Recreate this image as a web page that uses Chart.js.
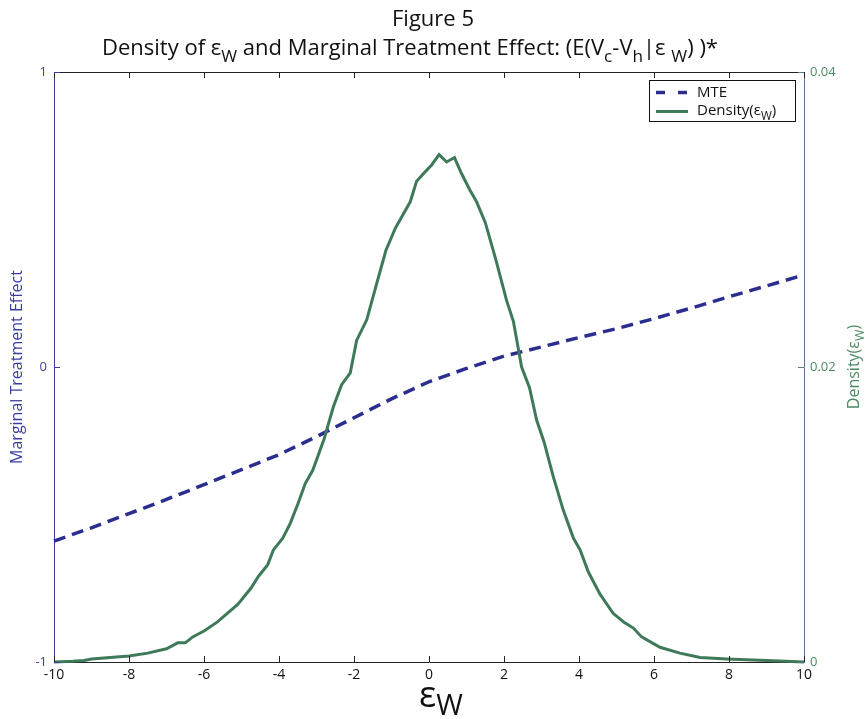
<!DOCTYPE html>
<html>
<head>
<meta charset="utf-8">
<script src="https://cdn.jsdelivr.net/npm/chart.js@4.4.0/dist/chart.umd.min.js"></script>
<style>
  html, body { margin: 0; padding: 0; background: #fff; }
  #wrap { width: 867px; height: 719px; }
</style>
</head>
<body>
<div id="wrap"><canvas id="chart" width="867" height="719"></canvas></div>
<script>
// tick values
const xTicks = [-10, -8, -6, -4, -2, 0, 2, 4, 6, 8, 10];
const mteTicks = [-1, 0, 1];
const densityTicks = [0, 0.02, 0.04];

// marginal treatment effect (left axis)
const mteX = [-10, -9, -8, -7, -6, -5, -4, -3, -2, -1, 0, 1, 2, 3, 4, 5, 6, 7, 8, 9, 10];
const mteValues = [-0.590, -0.545, -0.497, -0.449, -0.399, -0.348, -0.297, -0.236, -0.172, -0.108,
                   -0.050, -0.005, 0.037, 0.068, 0.100, 0.130, 0.164, 0.200, 0.238, 0.275, 0.312];

// density of eps_W (right axis)
const densityX = [-10, -9.5, -9.2, -9.0, -8.5, -8.0, -7.5, -7.0, -6.7, -6.5, -6.3, -6.0, -5.65, -5.1,
                  -4.75, -4.55, -4.3, -4.15, -3.9, -3.7, -3.5, -3.3, -3.1, -2.8, -2.55, -2.33, -2.1,
                  -1.93, -1.66, -1.39, -1.15, -0.9, -0.5, -0.33, -0.15, 0.07, 0.27, 0.47, 0.68, 0.87,
                  1.09, 1.27, 1.5, 1.78, 2.07, 2.25, 2.47, 2.68, 2.87, 3.07, 3.31, 3.58, 3.85, 4.03,
                  4.25, 4.56, 4.91, 5.2, 5.45, 5.67, 6.16, 6.69, 7.23, 7.94, 9.0, 10.0];
const densityValues = [0, 0.00005, 0.0001, 0.0002, 0.0003, 0.0004, 0.0006, 0.0009, 0.0013, 0.0013, 0.0017,
                       0.0021, 0.0027, 0.0039, 0.0050, 0.0058, 0.0066, 0.0076, 0.0084, 0.0094, 0.0107,
                       0.0121, 0.0130, 0.0151, 0.0173, 0.0188, 0.0196, 0.0218, 0.0232, 0.0257, 0.0279,
                       0.0294, 0.0312, 0.0326, 0.0331, 0.0337, 0.0344, 0.0339, 0.0342, 0.0331, 0.0320,
                       0.0312, 0.0298, 0.0273, 0.0245, 0.0231, 0.0200, 0.0186, 0.0164, 0.0149, 0.0126,
                       0.0103, 0.0084, 0.0076, 0.0061, 0.0046, 0.0033, 0.0027, 0.0023, 0.0017, 0.0010,
                       0.0006, 0.0003, 0.0002, 0.0001, 0];

const FONT = '"Open Sans", "DejaVu Sans", sans-serif';
const MTE_COLOR = '#2c2e8f';
const LEFT_AXIS = '#3b3ea0';
const DENS_COLOR = '#3e7a59';
const RIGHT_TEXT = '#4a8a62';
const RIGHT_AXIS = '#5d7590';

// draws text with subscript parts, baseline at y
function drawParts(ctx, parts, x, y, size, align, subScale, subDrop) {
    subScale = subScale || 0.78;
    subDrop = subDrop || 0.3;
    let total = 0;
    parts.forEach(p => {
        ctx.font = `${p.sub ? size * subScale : size}px ${FONT}`;
        p.w = ctx.measureText(p.t).width;
        total += p.w;
    });
    let cx = align === 'center' ? x - total / 2 : (align === 'right' ? x - total : x);
    ctx.textAlign = 'left';
    ctx.textBaseline = 'alphabetic';
    parts.forEach(p => {
        ctx.font = `${p.sub ? size * subScale : size}px ${FONT}`;
        ctx.fillText(p.t, cx, p.sub ? y + size * subDrop : y);
        cx += p.w;
    });
}

function line(ctx, x1, y1, x2, y2) {
    ctx.beginPath();
    ctx.moveTo(x1, y1);
    ctx.lineTo(x2, y2);
    ctx.stroke();
}

const framePlugin = {
    id: 'frame',
    afterDraw(chart) {
        const { ctx, chartArea: a, scales } = chart;
        ctx.save();
        ctx.lineWidth = 1;
        ctx.setLineDash([]);

        // top border and inward tick marks
        ctx.strokeStyle = '#222';
        line(ctx, a.left, a.top + 0.5, a.right, a.top + 0.5);
        xTicks.forEach(v => {
            const px = Math.round(scales.x.getPixelForValue(v)) + 0.5;
            line(ctx, px, a.bottom, px, a.bottom - 6);
            line(ctx, px, a.top, px, a.top + 6);
        });
        ctx.strokeStyle = LEFT_AXIS;
        mteTicks.forEach(v => {
            const py = Math.round(scales.y.getPixelForValue(v)) + 0.5;
            line(ctx, a.left, py, a.left + 6, py);
        });
        ctx.strokeStyle = RIGHT_AXIS;
        densityTicks.forEach(v => {
            const py = Math.round(scales.y1.getPixelForValue(v)) + 0.5;
            line(ctx, a.right, py, a.right - 6, py);
        });

        // titles
        ctx.fillStyle = '#111';
        drawParts(ctx, [{ t: 'Figure 5' }], 433, 26, 22, 'center');
        drawParts(ctx, [
            { t: 'Density of ε' }, { t: 'W', sub: true },
            { t: ' and Marginal Treatment Effect: (E(V' }, { t: 'c', sub: true },
            { t: '-V' }, { t: 'h', sub: true }, { t: '|ε ' }, { t: 'W', sub: true }, { t: ') )*' }
        ], 410, 55, 22, 'center');

        // x axis title
        drawParts(ctx, [{ t: 'ε' }, { t: 'W', sub: true }], 441, 707, 36, 'center', 0.8, 0.22);

        // left axis title
        ctx.save();
        ctx.translate(22, 367);
        ctx.rotate(-Math.PI / 2);
        ctx.fillStyle = LEFT_AXIS;
        drawParts(ctx, [{ t: 'Marginal Treatment Effect' }], 0, 0, 16, 'center');
        ctx.restore();

        // right axis title
        ctx.save();
        ctx.translate(859, 367);
        ctx.rotate(-Math.PI / 2);
        ctx.fillStyle = RIGHT_TEXT;
        drawParts(ctx, [{ t: 'Density(ε' }, { t: 'W', sub: true }, { t: ')' }], 0, 0, 16, 'center');
        ctx.restore();

        // legend
        ctx.fillStyle = '#fff';
        ctx.fillRect(649.5, 80.5, 146, 41);
        ctx.strokeStyle = '#111';
        ctx.strokeRect(649.5, 80.5, 146, 41);
        ctx.lineWidth = 3.5;
        ctx.strokeStyle = MTE_COLOR;
        ctx.setLineDash([9, 13]);
        line(ctx, 656, 92.5, 690, 92.5);
        ctx.setLineDash([]);
        ctx.lineWidth = 3;
        ctx.strokeStyle = DENS_COLOR;
        line(ctx, 656, 111.5, 688, 111.5);
        ctx.fillStyle = '#111';
        drawParts(ctx, [{ t: 'MTE' }], 697, 97, 15, 'left');
        drawParts(ctx, [{ t: 'Density(ε' }, { t: 'W', sub: true }, { t: ')' }], 697, 115, 15, 'left');

        ctx.restore();
    }
};

const tickFont = { family: FONT, size: 13 };

new Chart(document.getElementById('chart'), {
    type: 'line',
    data: {
        datasets: [
            {
                label: 'Density',
                data: densityX.map((x, i) => ({ x: x, y: densityValues[i] })),
                yAxisID: 'y1',
                borderColor: DENS_COLOR,
                borderWidth: 3,
                pointRadius: 0,
                tension: 0,
                order: 0,
                clip: 4
            },
            {
                label: 'MTE',
                data: mteX.map((x, i) => ({ x: x, y: mteValues[i] })),
                yAxisID: 'y',
                borderColor: MTE_COLOR,
                borderWidth: 3.5,
                borderDash: [12, 7],
                pointRadius: 0,
                tension: 0,
                order: 1,
                clip: 4
            }
        ]
    },
    options: {
        responsive: false,
        animation: false,
        devicePixelRatio: 1,
        layout: { padding: { top: 72, left: 0, right: 0, bottom: 0 } },
        plugins: {
            legend: { display: false },
            title: { display: false },
            tooltip: { enabled: false }
        },
        scales: {
            x: {
                type: 'linear',
                min: -10,
                max: 10,
                afterBuildTicks: s => { s.ticks = xTicks.map(v => ({ value: v })); },
                afterFit: s => { s.height = 57; },
                grid: { display: false, drawTicks: false },
                border: { color: '#222', width: 1 },
                ticks: { color: '#111', font: { family: FONT, size: 14 }, padding: 5, maxRotation: 0, autoSkip: false, callback: v => String(v) }
            },
            y: {
                position: 'left',
                min: -1,
                max: 1,
                afterBuildTicks: s => { s.ticks = mteTicks.map(v => ({ value: v })); },
                afterFit: s => { s.width = 54; },
                grid: { display: false, drawTicks: false },
                border: { color: LEFT_AXIS, width: 1 },
                ticks: { color: LEFT_AXIS, font: tickFont, padding: 7, callback: v => String(v) }
            },
            y1: {
                position: 'right',
                min: 0,
                max: 0.04,
                afterBuildTicks: s => { s.ticks = densityTicks.map(v => ({ value: v })); },
                afterFit: s => { s.width = 63; },
                grid: { display: false, drawTicks: false },
                border: { color: RIGHT_AXIS, width: 1 },
                ticks: { color: RIGHT_TEXT, font: tickFont, padding: 6, callback: v => String(v) }
            }
        }
    },
    plugins: [framePlugin]
});
</script>
</body>
</html>
